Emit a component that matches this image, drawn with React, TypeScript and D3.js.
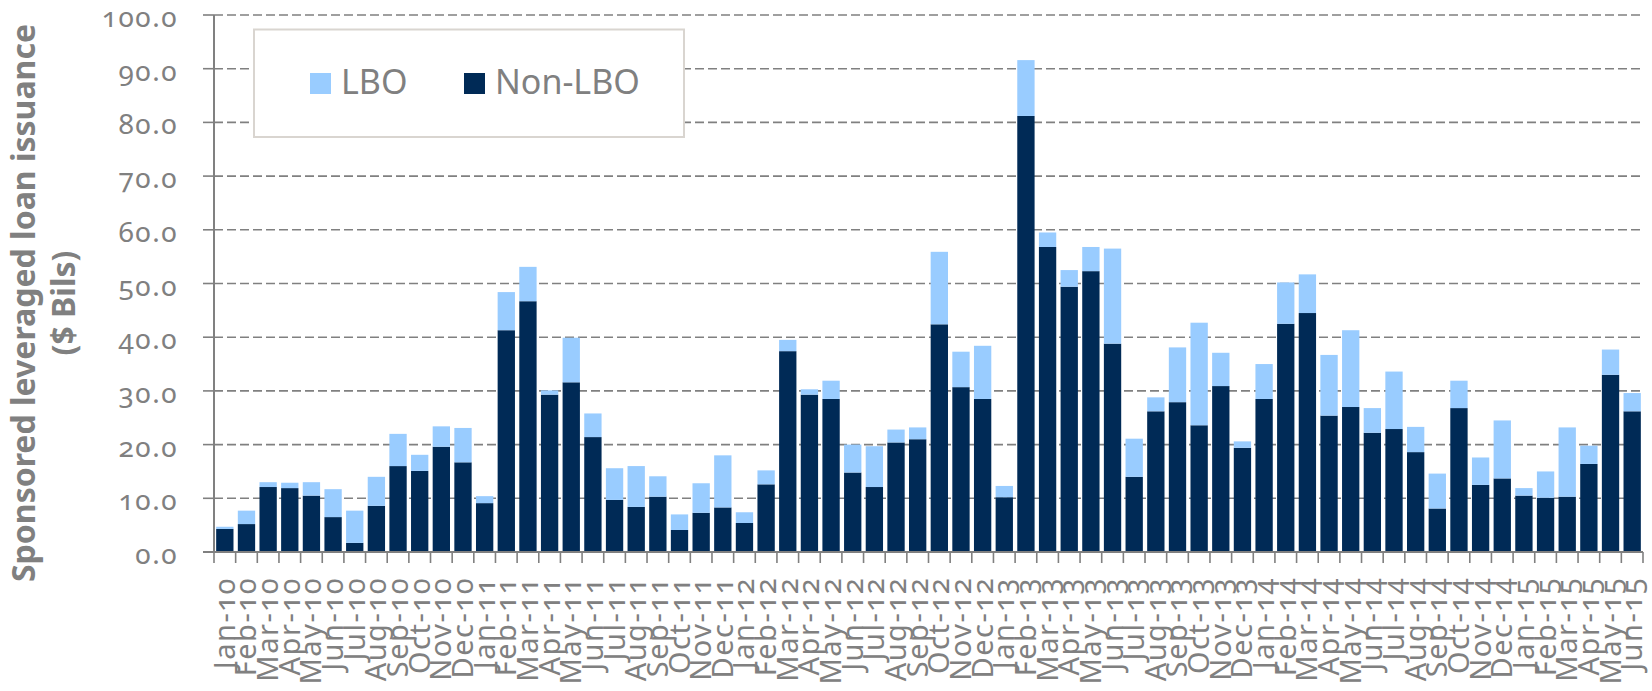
import React from "react";
import * as d3 from "d3";

// Monthly sponsored leveraged loan issuance, $ billions
const months = [
  "Jan-10", "Feb-10", "Mar-10", "Apr-10", "May-10", "Jun-10", "Jul-10", "Aug-10", "Sep-10", "Oct-10", "Nov-10", "Dec-10",
  "Jan-11", "Feb-11", "Mar-11", "Apr-11", "May-11", "Jun-11", "Jul-11", "Aug-11", "Sep-11", "Oct-11", "Nov-11", "Dec-11",
  "Jan-12", "Feb-12", "Mar-12", "Apr-12", "May-12", "Jun-12", "Jul-12", "Aug-12", "Sep-12", "Oct-12", "Nov-12", "Dec-12",
  "Jan-13", "Feb-13", "Mar-13", "Apr-13", "May-13", "Jun-13", "Jul-13", "Aug-13", "Sep-13", "Oct-13", "Nov-13", "Dec-13",
  "Jan-14", "Feb-14", "Mar-14", "Apr-14", "May-14", "Jun-14", "Jul-14", "Aug-14", "Sep-14", "Oct-14", "Nov-14", "Dec-14",
  "Jan-15", "Feb-15", "Mar-15", "Apr-15", "May-15", "Jun-15",
];

const nonLbo = [
  4.3, 5.2, 12.1, 11.9, 10.5, 6.5, 1.7, 8.6, 16.0, 15.1, 19.6, 16.7,
  9.1, 41.3, 46.7, 29.3, 31.6, 21.4, 9.7, 8.4, 10.3, 4.1, 7.3, 8.3,
  5.4, 12.6, 37.4, 29.3, 28.5, 14.8, 12.1, 20.4, 21.0, 42.4, 30.7, 28.5,
  10.2, 81.2, 56.8, 49.4, 52.3, 38.8, 14.0, 26.2, 27.9, 23.6, 30.9, 19.4,
  28.5, 42.5, 44.5, 25.4, 27.0, 22.2, 22.9, 18.6, 8.1, 26.8, 12.5, 13.7,
  10.5, 10.1, 10.3, 16.4, 33.0, 26.2,
];

const lbo = [
  0.4, 2.5, 0.9, 1.0, 2.5, 5.2, 6.0, 5.4, 6.0, 3.0, 3.8, 6.4,
  1.3, 7.1, 6.4, 0.8, 8.3, 4.4, 5.9, 7.6, 3.8, 2.9, 5.5, 9.7,
  2.0, 2.6, 2.1, 1.0, 3.4, 5.2, 7.6, 2.4, 2.2, 13.5, 6.6, 9.9,
  2.1, 10.4, 2.7, 3.1, 4.5, 17.7, 7.1, 2.6, 10.2, 19.1, 6.2, 1.2,
  6.5, 7.7, 7.2, 11.3, 14.3, 4.6, 10.7, 4.7, 6.5, 5.1, 5.1, 10.8,
  1.4, 4.9, 12.9, 3.4, 4.7, 3.4,
];

const yTicks = [0, 10, 20, 30, 40, 50, 60, 70, 80, 90, 100];

const seriesKeys = ["nonLbo", "lbo"];
const seriesColors: Record<string, string> = { nonLbo: "#002a56", lbo: "#99ccff" };
const legendItems = [
  { key: "lbo", label: "LBO" },
  { key: "nonLbo", label: "Non-LBO" },
];

const W = 1652;
const H = 691;
const left = 214;
const right = 1643;
const top = 15;
const bottom = 552;

const GRAY = "#808080";
const FONT = "'Noto Sans', 'Open Sans', 'DejaVu Sans', sans-serif";
const oldstyle = { fontVariantNumeric: "oldstyle-nums", fontFeatureSettings: "'onum' 1" } as const;

export default function App() {
  const rows = months.map((m, i) => ({ month: m, nonLbo: nonLbo[i], lbo: lbo[i] }));
  const stacked = d3.stack<any>().keys(seriesKeys)(rows);

  const x = d3.scaleBand<string>().domain(months).range([left, right]).paddingInner(0.2).paddingOuter(0.1);
  const y = d3.scaleLinear().domain([0, 100]).range([bottom, top]);
  const step = x.step();
  const boundaries = d3.range(months.length + 1).map((i) => left + i * step);

  return (
    <svg
      width={W}
      height={H}
      style={{ position: "absolute", left: 0, top: 0, background: "#fff" }}
      fontFamily={FONT}
    >
      {/* horizontal dashed gridlines and outer ticks */}
      {yTicks.map((t) => (
        <g key={t}>
          {t > 0 && (
            <line x1={left} x2={right} y1={y(t)} y2={y(t)} stroke={GRAY} strokeWidth={1.6} strokeDasharray="9,4" />
          )}
          <line x1={left - 11} x2={left} y1={y(t)} y2={y(t)} stroke={GRAY} strokeWidth={1.6} />
          <text
            x={178}
            y={y(t) + 12}
            textAnchor="end"
            fill={GRAY}
            fontSize={28}
            letterSpacing={1.5}
            style={oldstyle}
          >
            {t.toFixed(1)}
          </text>
        </g>
      ))}

      {/* stacked bars */}
      {stacked.map((layer) => (
        <g key={layer.key} fill={seriesColors[layer.key]}>
          {layer.map((d, i) => (
            <rect
              key={i}
              x={x(months[i])}
              y={y(d[1])}
              width={x.bandwidth()}
              height={Math.max(0, y(d[0]) - y(d[1]))}
            />
          ))}
        </g>
      ))}

      {/* axes */}
      <line x1={left} x2={left} y1={top} y2={bottom} stroke={GRAY} strokeWidth={2} />
      <line x1={left - 11} x2={right} y1={bottom} y2={bottom} stroke={GRAY} strokeWidth={2} />
      {boundaries.map((bx, i) => (
        <line key={i} x1={bx} x2={bx} y1={bottom} y2={bottom + 11} stroke={GRAY} strokeWidth={1.6} />
      ))}

      {/* category labels */}
      {months.map((m) => {
        const cx = (x(m) as number) + x.bandwidth() / 2 + 10;
        return (
          <text
            key={m}
            transform={`translate(${cx},${577}) rotate(-90)`}
            textAnchor="end"
            fill={GRAY}
            fontSize={29}
            letterSpacing={1.5}
            style={oldstyle}
          >
            {m}
          </text>
        );
      })}

      {/* y axis title */}
      <g transform="translate(0,303)">
        <text transform="translate(35,0) rotate(-90)" textAnchor="middle" fill={GRAY} fontSize={32} fontWeight={700}>
          Sponsored leveraged loan issuance
        </text>
        <text transform="translate(75,0) rotate(-90)" textAnchor="middle" fill={GRAY} fontSize={32} fontWeight={700}>
          ($ Bils)
        </text>
      </g>

      {/* legend */}
      <rect x={254} y={29.5} width={430} height={107.5} fill="#fff" stroke="#d9d5d0" strokeWidth={2} />
      {legendItems.map((item, i) => {
        const lx = i === 0 ? 310 : 464;
        return (
          <g key={item.key}>
            <rect x={lx} y={73} width={21} height={21} fill={seriesColors[item.key]} />
            <text x={lx + 31} y={94} fill={GRAY} fontSize={34}>
              {item.label}
            </text>
          </g>
        );
      })}
    </svg>
  );
}
